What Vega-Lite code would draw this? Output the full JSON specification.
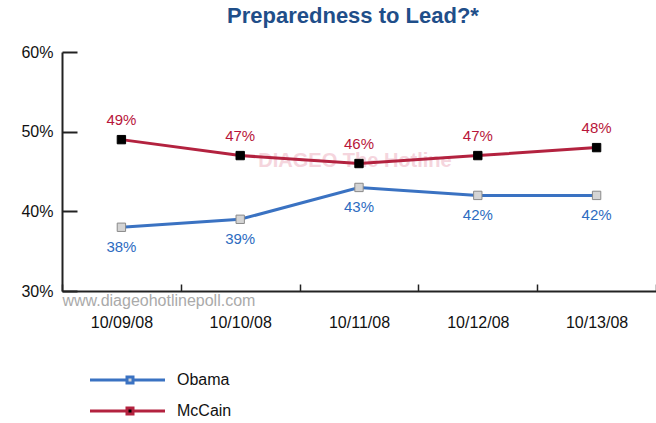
{
  "$schema": "https://vega.github.io/schema/vega-lite/v6.json",
  "width": 594,
  "height": 239,
  "autosize": {"type": "none"},
  "padding": {"left": 62, "top": 52, "right": 0, "bottom": 132},
  "background": "white",
  "config": {"view": {"stroke": null}, "font": "Liberation Sans"},
  "title": {
    "text": "Preparedness to Lead?*",
    "font": "Liberation Sans",
    "fontSize": 22,
    "fontWeight": "bold",
    "color": "#1f4e89",
    "anchor": "middle",
    "offset": 16,
    "dx": -6
  },
  "data": {
    "values": [
      {"date": "10/09/08", "candidate": "Obama", "pct": 38},
      {"date": "10/10/08", "candidate": "Obama", "pct": 39},
      {"date": "10/11/08", "candidate": "Obama", "pct": 43},
      {"date": "10/12/08", "candidate": "Obama", "pct": 42},
      {"date": "10/13/08", "candidate": "Obama", "pct": 42},
      {"date": "10/09/08", "candidate": "McCain", "pct": 49},
      {"date": "10/10/08", "candidate": "McCain", "pct": 47},
      {"date": "10/11/08", "candidate": "McCain", "pct": 46},
      {"date": "10/12/08", "candidate": "McCain", "pct": 47},
      {"date": "10/13/08", "candidate": "McCain", "pct": 48}
    ]
  },
  "encoding": {
    "x": {
      "field": "date",
      "type": "ordinal",
      "scale": {"type": "band", "paddingInner": 0, "paddingOuter": 0},
      "axis": {
        "title": null,
        "labelAngle": 0,
        "labelFontSize": 16,
        "labelColor": "#111",
        "labelPadding": 30,
        "tickBand": "extent",
        "tickSize": -7,
        "tickWidth": 1.5,
        "tickColor": "#222",
        "domainColor": "#222",
        "domainWidth": 2
      }
    },
    "y": {
      "field": "pct",
      "type": "quantitative",
      "scale": {"domain": [30, 60]},
      "axis": {
        "title": null,
        "values": [30, 40, 50, 60],
        "labelExpr": "datum.value + '%'",
        "labelFontSize": 16,
        "labelColor": "#111",
        "labelPadding": 24,
        "tickSize": -15,
        "tickWidth": 2,
        "tickColor": "#222",
        "domainColor": "#222",
        "domainWidth": 2,
        "grid": false
      }
    }
  },
  "layer": [
    {
      "data": {"values": [{"date": "10/11/08", "pct": 46.3, "t": "DIAGEO The Hotline"}]},
      "mark": {"type": "text", "fontSize": 20, "fontWeight": "bold", "color": "#f2c4d0", "opacity": 0.7, "dx": -4},
      "encoding": {"text": {"field": "t"}}
    },
    {
      "data": {"values": [{"date": "10/09/08", "pct": 30, "t": "www.diageohotlinepoll.com"}]},
      "mark": {"type": "text", "fontSize": 16, "color": "#aaaaaa", "align": "left", "baseline": "top", "dx": -59, "dy": 2},
      "encoding": {"text": {"field": "t"}}
    },
    {
      "mark": {"type": "line", "strokeWidth": 3},
      "encoding": {
        "color": {
          "field": "candidate",
          "type": "nominal",
          "scale": {"domain": ["Obama", "McCain"], "range": ["#3a72c2", "#b3223f"]},
          "legend": {
            "title": null,
            "orient": "none",
            "legendX": 25,
            "legendY": 320,
            "symbolType": "M-1,0H6.4M7.6,0H14M6.4,-0.6H7.6V0.6H6.4Z",
            "symbolSize": 100,
            "symbolStrokeWidth": 3,
            "labelFontSize": 16,
            "labelColor": "#111",
            "labelOffset": 74,
            "rowPadding": 13,
            "encode": {
              "symbols": {
                "update": {
                  "fill": {"signal": "datum.value === 'Obama' ? '#d4d4d4' : '#000000'"}
                }
              }
            }
          }
        }
      }
    },
    {
      "mark": {"type": "point", "shape": "square", "size": 70, "filled": true, "strokeWidth": 1, "opacity": 1},
      "encoding": {
        "fill": {
          "field": "candidate",
          "type": "nominal",
          "scale": {"domain": ["Obama", "McCain"], "range": ["#d4d4d4", "#000000"]},
          "legend": null
        },
        "stroke": {
          "field": "candidate",
          "type": "nominal",
          "scale": {"domain": ["Obama", "McCain"], "range": ["#8a8a8a", "#000000"]},
          "legend": null
        }
      }
    },
    {
      "transform": [{"filter": "datum.candidate === 'McCain'"}],
      "mark": {"type": "text", "fontSize": 15, "color": "#b8163a", "dy": -20, "text": {"expr": "datum.pct + '%'"}}
    },
    {
      "transform": [{"filter": "datum.candidate === 'Obama'"}],
      "mark": {"type": "text", "fontSize": 15, "color": "#2d6bbf", "dy": 20, "text": {"expr": "datum.pct + '%'"}}
    }
  ]
}
